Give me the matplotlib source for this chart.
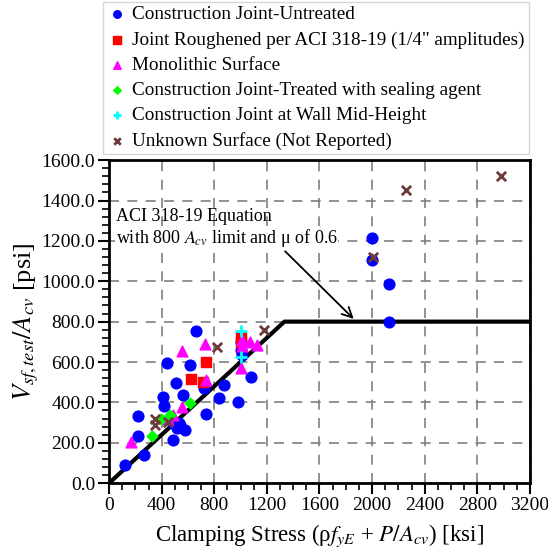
import matplotlib
matplotlib.use("Agg")
import matplotlib.pyplot as plt
from matplotlib.ticker import MultipleLocator, FormatStrFormatter

plt.rcParams['font.family'] = ['Liberation Serif', 'DejaVu Serif']
plt.rcParams['mathtext.fontset'] = 'stix'

# Construction Joint-Untreated
untreated_x = [661, 440, 617, 508, 562, 409, 421, 724, 871, 836, 739, 983, 1082, 1011,
               1000, 1005, 219, 219, 267, 122, 485, 541, 579, 490, 516, 530,
               2000, 2000, 2125, 2125]
untreated_y = [754, 596, 585, 497, 439, 428, 383, 469, 485, 424, 344, 403, 524, 634,
               660, 700, 332, 234, 139, 89, 296, 287, 263, 213, 271, 300,
               1215, 1105, 985, 800]
# Joint Roughened per ACI 318-19
rough_x = [739, 625, 711, 1000, 1000]
rough_y = [600, 515, 501, 722, 700]
# Monolithic Surface
mono_x = [554, 726, 734, 165, 556, 490, 452, 1000, 1010, 1069, 1125, 1010]
mono_y = [655, 687, 510, 205, 375, 337, 320, 568, 708, 700, 683, 680]
# Construction Joint-Treated with sealing agent
sealed_x = [612, 396, 325, 465]
sealed_y = [395, 320, 233, 337]
# Construction Joint at Wall Mid-Height
mid_x = [1000, 1000]
mid_y = [753, 625]
# Unknown Surface
unknown_x = [1176, 821, 350, 350, 452, 2006, 2255, 2979]
unknown_y = [761, 675, 320, 287, 304, 1119, 1453, 1522]

# ACI 318-19 equation: 0.6 * clamping, limited to 800
aci_x = [0, 800 / 0.6, 3200]
aci_y = [0, 800, 800]

fig = plt.figure(figsize=(5.48, 5.56), dpi=100)
ax = fig.add_axes([0.199, 0.131, 0.768, 0.581])

ax.plot(aci_x, aci_y, color='black', lw=3, zorder=2)

ax.scatter(untreated_x, untreated_y, marker='o', s=60, color='#0000ff', zorder=3,
           label='Construction Joint-Untreated')
ax.scatter(rough_x, rough_y, marker='s', s=60, color='#ff0000', zorder=3,
           label='Joint Roughened per ACI 318-19 (1/4" amplitudes)')
ax.scatter(mono_x, mono_y, marker='^', s=60, color='#ff00ff', zorder=3,
           label='Monolithic Surface')
ax.scatter(sealed_x, sealed_y, marker='D', s=30, color='#00ff00', zorder=3,
           label='Construction Joint-Treated with sealing agent')
ax.scatter(mid_x, mid_y, marker='+', s=70, color='#00ffff', linewidths=2, zorder=3,
           label='Construction Joint at Wall Mid-Height')
ax.scatter(unknown_x, unknown_y, marker='x', s=45, color='#6e3b3b', linewidths=2, zorder=3,
           label='Unknown Surface (Not Reported)')

ax.annotate('', xy=(1875, 804), xytext=(1324, 1158),
            arrowprops=dict(arrowstyle='->', color='black', lw=1.3, mutation_scale=18))
ax.plot([160, 1324], [1158, 1158], color='black', lw=1.3)
ax.text(50, 1323, 'ACI 318-19 Equation', fontsize=13, va='center', ha='left')
ax.text(50, 1214, r'with 800 $A_{cv}$ limit and μ of 0.6', fontsize=13, va='center', ha='left',
        bbox=dict(facecolor='white', edgecolor='none', pad=0.5))

ax.set_xlim(0, 3200)
ax.set_ylim(0, 1600)
ax.xaxis.set_major_locator(MultipleLocator(400))
ax.xaxis.set_minor_locator(MultipleLocator(100))
ax.yaxis.set_major_locator(MultipleLocator(200))
ax.yaxis.set_minor_locator(MultipleLocator(40))
ax.yaxis.set_major_formatter(FormatStrFormatter('%.1f'))
ax.tick_params(which='major', direction='out', length=8, width=1.5, labelsize=14,
               colors='black', pad=2)
ax.tick_params(which='minor', direction='out', length=5, width=1.2)
ax.grid(True, which='major', linestyle=(0, (6, 5)), color='#7f7f7f', lw=1.2)
ax.set_axisbelow(True)
for s in ax.spines.values():
    s.set_linewidth(2)

ax.set_xlabel(r'Clamping Stress (ρ$f_{yE}$ + $P/A_{cv}$) [ksi]', fontsize=16.5, labelpad=6)
ax.set_ylabel(r'$V_{sf,test}/A_{cv}$ [psi]', fontsize=19, labelpad=0)

fig.legend(loc='upper left', bbox_to_anchor=(0.188, 0.997), fontsize=13.8,
           frameon=True, fancybox=False, edgecolor='#cccccc', handletextpad=0.3,
           borderpad=0.22, labelspacing=0.41, markerscale=0.7, handlelength=1.0,
           borderaxespad=0)

fig.savefig('out.png', dpi=100)
